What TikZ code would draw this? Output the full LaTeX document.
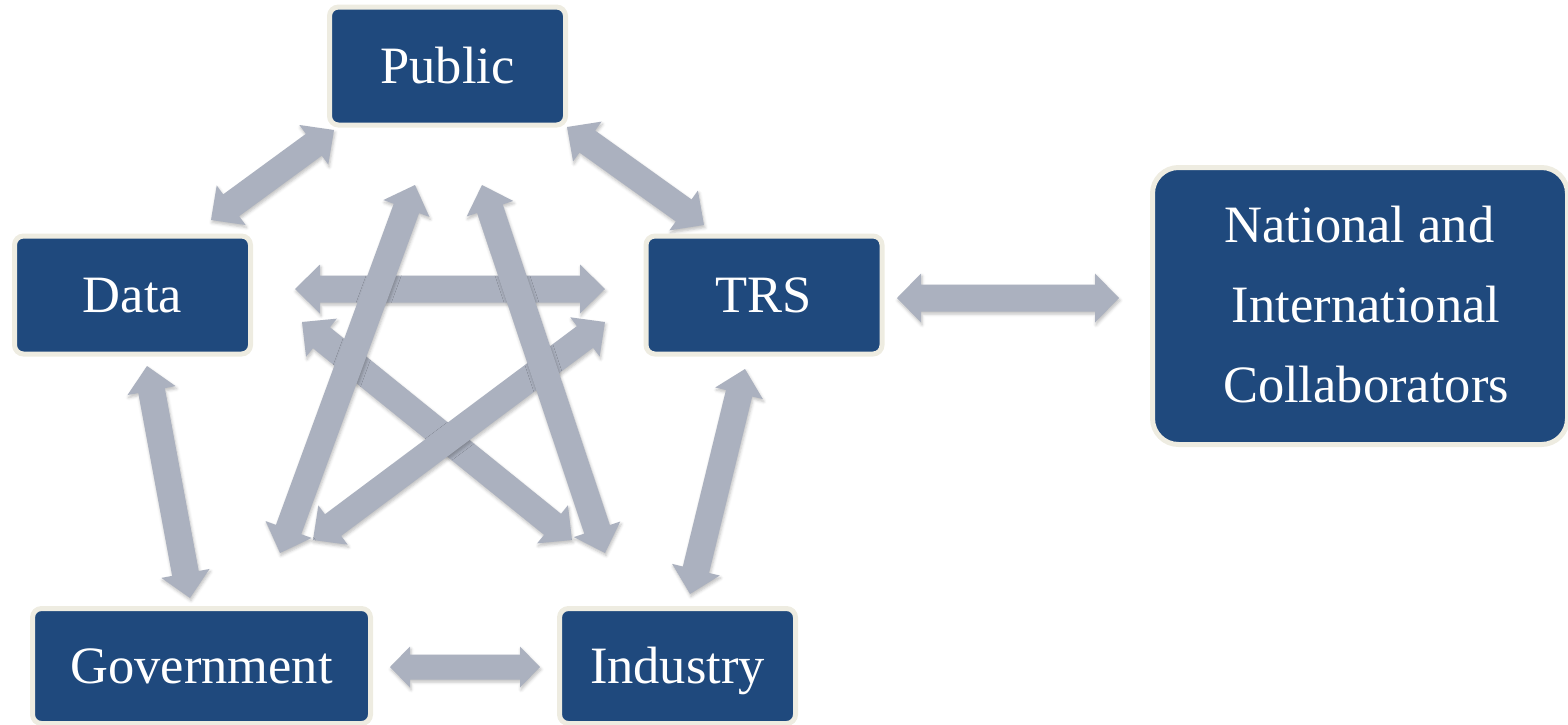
\documentclass[tikz,border=0pt]{standalone}
\usepackage{fontspec}
\setmainfont{Liberation Serif}
\usetikzlibrary{calc,shadows.blur}

\definecolor{boxblue}{RGB}{31,73,125}
\definecolor{boxrim}{RGB}{238,236,225}
\definecolor{arrowgrey}{RGB}{171,177,191}

\pgfdeclarelayer{links}
\pgfsetlayers{links,main}

\tikzset{
  actor/.style={rectangle, rounded corners=9pt, fill=boxblue, draw=boxrim,
    line width=5pt, outer sep=0pt, inner sep=0pt,
    minimum width=236pt, minimum height=118pt, text=white,
    font=\fontsize{52.5}{62}\selectfont, text height=34.5pt, text depth=0pt},
  linkarrow/.style={fill=arrowgrey,
    blur shadow={shadow xshift=1pt, shadow yshift=-2.5pt,
      shadow blur radius=3pt, shadow opacity=25}},
}

% Two-headed block arrow between two named points:
% #1 extra options, #2 first tip, #3 second tip,
% #4 head length, #5 half head width, #6 half shaft width
\newcommand{\pairarrow}[6][]{%
  \fill[linkarrow,#1] (#2)
    -- ($(#2)!#4!(#3)!#5!90:(#3)$)
    -- ($(#2)!#4!(#3)!#6!90:(#3)$)
    -- ($(#3)!#4!(#2)!#6!-90:(#2)$)
    -- ($(#3)!#4!(#2)!#5!-90:(#2)$)
    -- (#3)
    -- ($(#3)!#4!(#2)!#5!90:(#2)$)
    -- ($(#3)!#4!(#2)!#6!90:(#2)$)
    -- ($(#2)!#4!(#3)!#6!-90:(#3)$)
    -- ($(#2)!#4!(#3)!#5!-90:(#3)$)
    -- cycle;}

\begin{document}
\begin{tikzpicture}[x=1pt,y=-1pt]
\useasboundingbox (0,0) rectangle (1568,724);

% partners
\node[actor] (public)   at (447.5,66)  {Public};
\node[actor] (data)     at (132.5,295) {Data};
\node[actor] (trs)      at (764,295)   {TRS};
\node[actor, minimum width=338pt, minimum height=115pt] (govt) at (201.5,666) {Government};
\node[actor, minimum height=115pt] (industry) at (677.5,666) {Industry};
\node[actor, minimum width=415pt, minimum height=277pt, rounded corners=26pt] (collab) at (1360,306) {};
\node[text=white, inner sep=0pt, align=center, font=\fontsize{52.5}{80}\selectfont]
  (collabtext) at ([xshift=6pt,yshift=1pt]collab.center)
  {National and\hspace*{13pt}\\International\\Collaborators};

% arrow tips, placed against the boxes they join
\coordinate (pd1) at ([shift={(4.5,5)}]public.south west);
\coordinate (pd2) at ([shift={(-39.5,-16)}]data.north east);
\coordinate (pt1) at ([shift={(1.5,2)}]public.south east);
\coordinate (pt2) at ([shift={(58,-11)}]trs.north west);
\coordinate (dg1) at ([shift={(14.5,12)}]data.south);
\coordinate (dg2) at ([shift={(-11.5,-10.5)}]govt.north);
\coordinate (ti1) at ([shift={(-19,15)}]trs.south);
\coordinate (ti2) at ([shift={(12.5,-14.5)}]industry.north);
\coordinate (gi1) at ([shift={(19.5,1)}]govt.east);
\coordinate (gi2) at ([shift={(-19.5,1)}]industry.west);
\coordinate (tc1) at ([shift={(15,3)}]trs.east);
\coordinate (tc2) at ([shift={(-33.5,-8)}]collab.west);
\coordinate (dt1) at ([shift={(44.5,-6)}]data.east);
\coordinate (dt2) at ([shift={(-41,-6)}]trs.west);
\coordinate (pg1) at ([shift={(-32.5,60)}]public.south);
\coordinate (pg2) at ([shift={(78.5,-55.5)}]govt.north);
\coordinate (pi1) at ([shift={(34.5,60)}]public.south);
\coordinate (pi2) at ([shift={(-72.5,-55.5)}]industry.north);
\coordinate (di1) at ([shift={(51.5,27)}]data.east);
\coordinate (di2) at ([shift={(-105.5,-68.5)}]industry.north);
\coordinate (tg1) at ([shift={(-41,27)}]trs.west);
\coordinate (tg2) at ([shift={(111.5,-68.5)}]govt.north);

\begin{pgfonlayer}{links}
% ring of links
\pairarrow{pd1}{pd2}{25pt}{24.5pt}{13.5pt}
\pairarrow{pt1}{pt2}{25pt}{24.5pt}{13.5pt}
\pairarrow{dg1}{dg2}{25pt}{24.5pt}{13.5pt}
\pairarrow{ti1}{ti2}{25pt}{24.5pt}{13.5pt}
\pairarrow{gi1}{gi2}{20pt}{20.5pt}{12.5pt}
\pairarrow{tc1}{tc2}{24pt}{24.5pt}{13.5pt}

% inner star of links
\pairarrow{dt1}{dt2}{25pt}{24.5pt}{13.5pt}
\pairarrow{di1}{di2}{25pt}{24.5pt}{13.5pt}
\pairarrow{tg1}{tg2}{25pt}{24.5pt}{13.5pt}
\pairarrow{pg1}{pg2}{25pt}{24.5pt}{13.5pt}
\pairarrow{pi1}{pi2}{25pt}{24.5pt}{13.5pt}
\end{pgfonlayer}
\end{tikzpicture}
\end{document}
